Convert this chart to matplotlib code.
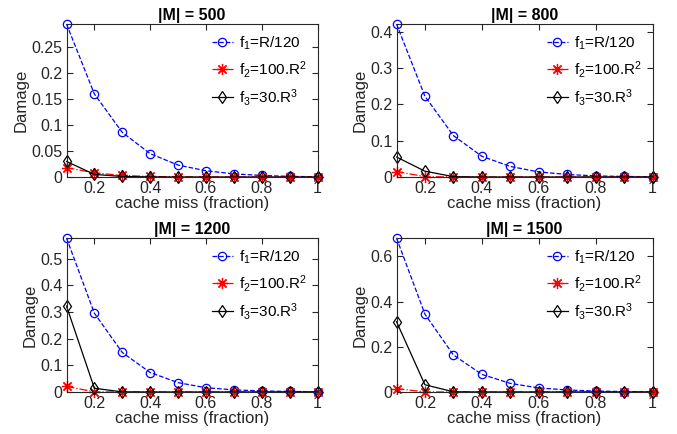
import matplotlib
matplotlib.use("Agg")
import matplotlib.pyplot as plt
from matplotlib.ticker import FormatStrFormatter

plt.rcParams["font.family"] = ["Liberation Sans", "DejaVu Sans"]
plt.rcParams["mathtext.default"] = "regular"
plt.rcParams["font.size"] = 11

miss = [0.1, 0.2, 0.3, 0.4, 0.5, 0.6, 0.7, 0.8, 0.9, 1.0]
sizes = [500, 800, 1200, 1500]

f1 = {
    500: [0.295, 0.160, 0.086, 0.045, 0.023, 0.012, 0.006, 0.003, 0.0012, 0.0005],
    800: [0.421, 0.222, 0.114, 0.057, 0.029, 0.014, 0.007, 0.003, 0.0015, 0.0007],
    1200: [0.577, 0.295, 0.148, 0.073, 0.035, 0.016, 0.008, 0.004, 0.002, 0.001],
    1500: [0.681, 0.344, 0.164, 0.078, 0.038, 0.018, 0.009, 0.004, 0.002, 0.001],
}
f2 = {
    500: [0.018, 0.008, 0.003, 0.001, 0.0004, 0.0002, 0.0001, 0, 0, 0],
    800: [0.015, 0.001, 0.0002, 0, 0, 0, 0, 0, 0, 0],
    1200: [0.021, 0.0005, 0, 0, 0, 0, 0, 0, 0, 0],
    1500: [0.015, 0.0005, 0, 0, 0, 0, 0, 0, 0, 0],
}
f3 = {
    500: [0.030, 0.005, 0.001, 0.0002, 0, 0, 0, 0, 0, 0],
    800: [0.055, 0.016, 0.001, 0, 0, 0, 0, 0, 0, 0],
    1200: [0.322, 0.014, 0.0005, 0, 0, 0, 0, 0, 0, 0],
    1500: [0.311, 0.032, 0.001, 0, 0, 0, 0, 0, 0, 0],
}
yticks = {
    500: [0, 0.05, 0.1, 0.15, 0.2, 0.25],
    800: [0, 0.1, 0.2, 0.3, 0.4],
    1200: [0, 0.1, 0.2, 0.3, 0.4, 0.5],
    1500: [0, 0.2, 0.4, 0.6],
}
labels = [r"f$_1$=R/120", r"f$_2$=100.R$^2$", r"f$_3$=30.R$^3$"]

fig = plt.figure(figsize=(6.77, 4.34), dpi=100)
W, H = 677, 434
boxes = [(66.5, 24, 251, 153), (396.5, 24, 256, 153), (66.5, 238, 251, 154), (396.5, 238, 256, 154)]
grey = "#262626"

for m, (x0, y0, w, h) in zip(sizes, boxes):
    ax = fig.add_axes([x0 / W, 1 - (y0 + h) / H, w / W, h / H])
    ax.plot(miss, f1[m], "--o", color="blue", lw=0.9, ms=6, mfc="none", mew=0.9,
            label=labels[0], clip_on=False)
    ax.plot(miss, f2[m], "-.", marker=(8, 2, 0), color="red", lw=0.9, ms=8, mew=0.9,
            label=labels[1], clip_on=False)
    ax.plot(miss, f3[m], "-d", color="black", lw=0.9, ms=6, mfc="none", mew=0.9,
            label=labels[2], clip_on=False)
    ax.set_xlim(0.1, 1)
    ax.set_ylim(0, max(f1[m]))
    ax.set_xticks([0.2, 0.4, 0.6, 0.8, 1])
    ax.set_yticks(yticks[m])
    ax.xaxis.set_major_formatter(FormatStrFormatter("%g"))
    ax.yaxis.set_major_formatter(FormatStrFormatter("%g"))
    ax.tick_params(direction="in", top=True, right=True, length=4, labelsize=11.5,
                   pad=3, colors=grey, labelcolor=grey)
    for s in ax.spines.values():
        s.set_linewidth(0.8)
        s.set_color(grey)
    ax.set_title(f"|M| = {m}", fontweight="bold", fontsize=11.5, pad=3)
    ax.set_xlabel("cache miss (fraction)", fontsize=12, labelpad=0, color=grey)
    ax.set_ylabel("Damage", fontsize=12, labelpad=2, color=grey)
    ax.legend(loc="upper right", frameon=False, fontsize=11, handlelength=1.4,
              labelspacing=0.45, handletextpad=0.4, borderaxespad=0.3)

fig.savefig("out.png", dpi=100)
